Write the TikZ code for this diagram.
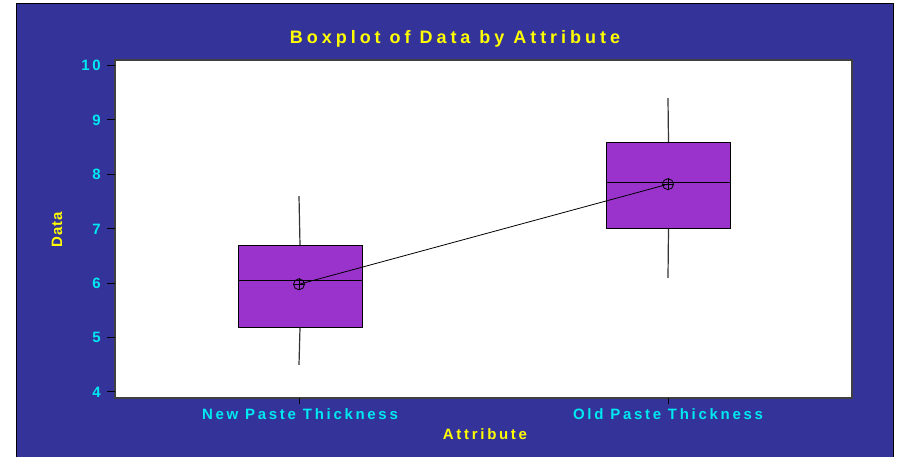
\documentclass[tikz,border=0pt]{standalone}
\usepackage{fontspec}
\setmainfont{Liberation Sans}
\newfontfamily\spaced{Liberation Sans}[LetterSpace=18]
\newfontfamily\titlespaced{Liberation Sans}[LetterSpace=22]
\newfontfamily\lessspaced{Liberation Sans}[LetterSpace=6]
\definecolor{bgblue}{RGB}{51,51,153}
\definecolor{ticktext}{RGB}{0,232,240}
\definecolor{titleyel}{RGB}{255,255,0}
\definecolor{boxpurple}{RGB}{153,51,204}
\tikzset{
  lbl/.style={inner sep=0pt, font=\spaced\bfseries\fontsize{15}{17}\selectfont},
  ticklbl/.style={lbl, text=ticktext, anchor=base east},
  catlbl/.style={lbl, text=ticktext, anchor=base},
  axtitle/.style={lbl, text=titleyel, anchor=base},
  boxbody/.style={draw=black, fill=boxpurple, line width=1pt},
  whisker/.style={draw=black!80, line width=1.2pt},
  medianline/.style={draw=black, line width=0.8pt},
  meanmark/.style={circle, draw=black, line width=0.8pt, minimum size=11pt, inner sep=0pt},
  tickmark/.style={draw=black, line width=1pt}
}
\begin{document}
\begin{tikzpicture}[x=1pt, y=-1pt]
\useasboundingbox (0,0) rectangle (898,457);
% background panel
\fill[white] (0,0) rectangle (898,457);
\filldraw[fill=bgblue, draw=black, line width=0.8pt] (16,3) rectangle (893,470);
% plot area
\filldraw[fill=white, draw=black!75, line width=1.3pt] (115,60) rectangle (852,398);
% y ticks
\foreach \v/\y in {10/65.6, 9/120, 8/174.4, 7/228.8, 6/283.2, 5/337.6, 4/392} {
  \coordinate (yt\v) at (115,\y);
  \coordinate (ytl\v) at (107,\y);
  \draw[tickmark] (ytl\v) -- (yt\v);
  \node[ticklbl] (ylab\v) at (101,\y+5.3) {\v};
}
% x ticks
\coordinate (xt1) at (299,398);
\coordinate (xt1b) at (299,404);
\coordinate (xt2) at (668,398);
\coordinate (xt2b) at (668,404);
\draw[tickmark] (xt1) -- (xt1b);
\draw[tickmark] (xt2) -- (xt2b);
% box 1 (New Paste Thickness)
\coordinate (w1top) at (299,196.2);
\coordinate (w1bot) at (299,364.8);
\node[boxbody, minimum width=124pt, minimum height=81.6pt, inner sep=0pt, anchor=north west] (box1) at (237.5,245.1) {};
\draw[whisker] (box1.north) -- (w1top);
\draw[whisker] (box1.south) -- (w1bot);
\coordinate (med1l) at (237.5,280.5);
\coordinate (med1r) at (361.5,280.5);
\draw[medianline] (med1l) -- (med1r);
% box 2 (Old Paste Thickness)
\coordinate (w2top) at (668,98.2);
\coordinate (w2bot) at (668,277.8);
\node[boxbody, minimum width=124pt, minimum height=85.9pt, inner sep=0pt, anchor=north west] (box2) at (606,141.8) {};
\draw[whisker] (box2.north) -- (w2top);
\draw[whisker] (box2.south) -- (w2bot);
\coordinate (med2l) at (606,182.6);
\coordinate (med2r) at (730,182.6);
\draw[medianline] (med2l) -- (med2r);
% means
\node[meanmark] (m1) at (299,284.3) {};
\node[meanmark] (m2) at (668,184.2) {};
\draw[line width=0.8pt] (m1.north) -- (m1.south) (m1.west) -- (m1.east);
\draw[line width=0.8pt] (m2.north) -- (m2.south) (m2.west) -- (m2.east);
\draw[line width=0.8pt] (m1.center) -- (m2.center);
% labels
\node[axtitle, font=\titlespaced\bfseries\fontsize{18}{20}\selectfont] (title) at (455,43.5) {Boxplot of Data by Attribute};
\node[catlbl] (cat1) at (300,420) {New Paste Thickness};
\node[catlbl] (cat2) at (668,420) {Old Paste Thickness};
\node[axtitle] (xtitle) at (485,439) {Attribute};
\node[axtitle, font=\lessspaced\bfseries\fontsize{15}{17}\selectfont, rotate=90] (ytitle) at (62,229.5) {Data};
\end{tikzpicture}
\end{document}
